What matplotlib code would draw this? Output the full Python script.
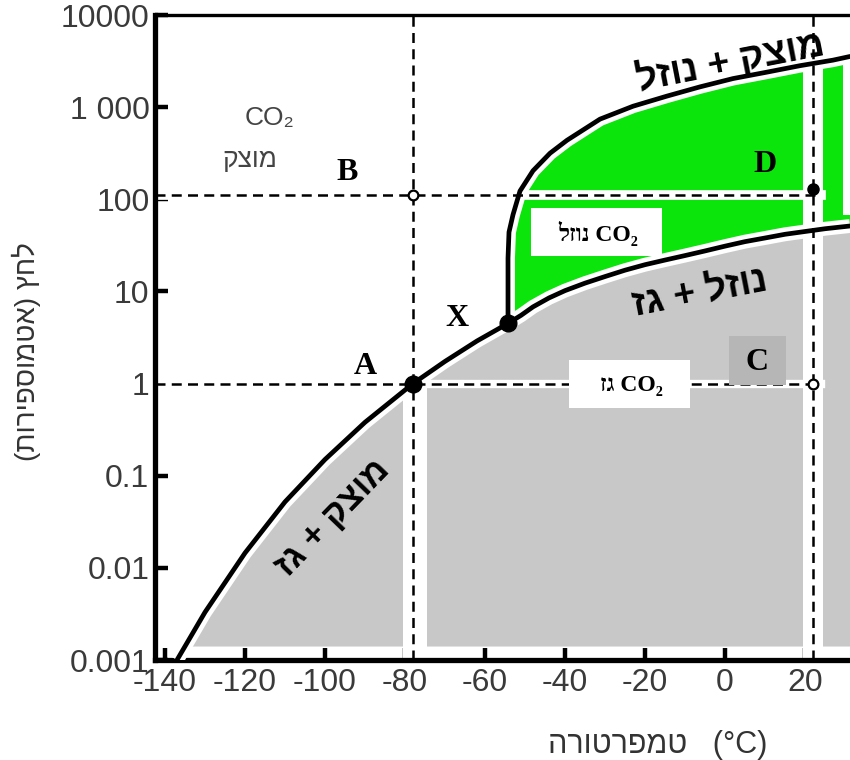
import matplotlib
matplotlib.use('Agg')
import matplotlib.pyplot as plt
from matplotlib.patches import Rectangle

plt.rcParams['axes.unicode_minus'] = False

# phase boundaries (temperature in C, pressure in atm)
subl_t = [-137, -130, -120, -110, -100, -90, -78, -70, -62, -54.25]
subl_p = [0.001, 0.0033, 0.0145, 0.052, 0.15, 0.38, 1.0, 1.74, 2.9, 4.5]

vap_t = [-54.25, -51, -48, -44, -40, -35, -30, -25, -20, -15, -10, -5, 0, 5, 10, 15, 20,
         25, 31.25]
vap_p = [4.5, 5.5, 6.8, 8.5, 10.2, 12.3, 14.5, 17, 19.5, 21.9, 24.5, 27.5, 31, 34.7, 38,
         41.7, 44.7, 47.9, 51.3]

melt_t = [-54.25, -54.25, -54.25, -54, -53, -51.25, -48, -43.75, -39.5, -31.25, -23, -14.5,
          -6.25, 2, 10.5, 18.75, 27, 31.25]
melt_p = [4.5, 11, 23, 44, 68, 123, 204, 316, 437, 741, 1023, 1318, 1660, 2042, 2399, 2818,
          3236, 3548]

triple = (-54.25, 4.5)
point_a = (-78, 1.0)
point_d = (22, 130)
open_pts_t = [-78, 22]
open_pts_p = [110, 1.0]

x_ticks = [-140, -120, -100, -80, -60, -40, -20, 0, 20]
y_ticks = [0.001, 0.01, 0.1, 1, 10, 100, 1000, 10000]
y_tick_labels = ['0.001', '0.01', '0.1', '1', '10', '100', '1 000', '10000']

xmin, xmax = -142.5, 31.25
ymin, ymax = 0.001, 10000

GRAY = '#c8c8c8'
GREEN = '#0be50b'
tick_font = ['Liberation Sans Narrow', 'Liberation Sans', 'DejaVu Sans']
heb_font = ['Liberation Sans', 'DejaVu Sans']
serif_font = ['Liberation Serif', 'DejaVu Serif']

fig = plt.figure(figsize=(8.5, 7.6), dpi=100)
ax = fig.add_axes([155 / 850, 1 - 660 / 760, 695 / 850, 645 / 760])
ax.set_yscale('log')
ax.set_xlim(xmin, xmax)
ax.set_ylim(ymin, ymax)

# gas region (gray) and liquid region (green)
gx = subl_t + vap_t[1:] + [xmax, subl_t[0]]
gy = subl_p + vap_p[1:] + [0.0014, 0.0014]
ax.fill(gx, gy, color=GRAY, lw=0, zorder=1)
lx = vap_t + melt_t[::-1]
ly = vap_p + melt_p[::-1]
ax.fill(lx, ly, color=GREEN, lw=0, zorder=1)

# white gaps along the dashed guide lines
ax.axvspan(-80.5, -74.5, color='white', lw=0, zorder=2)
ax.axvspan(19.5, 24.5, color='white', lw=0, zorder=2)
ax.axvspan(29.5, xmax, ymin=0.69, color='white', lw=0, zorder=2)
ax.plot([xmin, 24], [1, 1], color='white', lw=6, zorder=2)
ax.plot([xmin, 24], [110, 110], color='white', lw=7, zorder=2)

# guide lines
dash = (0, (4, 2.5))
ax.plot([-78, -78], [ymin, ymax], color='black', lw=1.8, ls=dash, zorder=4)
ax.plot([22, 22], [ymin, ymax], color='black', lw=1.8, ls=dash, zorder=4)
ax.plot([xmin, 24], [1, 1], color='black', lw=1.8, ls=dash, zorder=4)
ax.plot([xmin, 24], [110, 110], color='black', lw=1.8, ls=dash, zorder=4)

# phase boundaries with a white margin
for t, p in [(subl_t, subl_p), (vap_t, vap_p), (melt_t, melt_p)]:
    ax.plot(t, p, color='white', lw=10, solid_capstyle='butt', zorder=3)
    ax.plot(t, p, color='black', lw=3.4, solid_capstyle='round', solid_joinstyle='round',
            zorder=5)

ax.plot(*point_a, 'o', color='black', ms=12, zorder=6)
ax.plot(*triple, 'o', color='black', ms=12, zorder=6)
ax.plot(*point_d, 'o', color='black', ms=8, zorder=6)
ax.plot(open_pts_t, open_pts_p, 'o', mfc='white', mec='black', mew=1.6, ms=7, zorder=6)

# axes look
for side in ['left', 'bottom']:
    ax.spines[side].set_linewidth(3.8)
ax.spines['top'].set_linewidth(2.4)
ax.spines['right'].set_visible(False)
ax.set_xticks(x_ticks)
ax.set_xticklabels([str(v) for v in x_ticks])
ax.set_yticks(y_ticks)
ax.set_yticklabels(y_tick_labels)
ax.minorticks_off()
ax.tick_params(direction='in', length=9, width=3.2, colors='black')
ax.tick_params(axis='x', pad=6)
ax.tick_params(axis='y', pad=4)
for lab in ax.get_xticklabels() + ax.get_yticklabels():
    lab.set_family(tick_font)
    lab.set_fontsize(23)
    lab.set_color('#3a3a3a')


def px(x, y):
    return x / 850, 1 - y / 760


# axis titles (Hebrew written in visual order)
fig.text(*px(658, 745), 'הרוטרפמט   (°C)', ha='center', va='center', fontsize=22,
         family=heb_font, color='#333333')
fig.text(*px(26, 352), '(תוריפסומטא) ץחל', ha='center', va='center', rotation=90,
         fontsize=20, family=heb_font, color='#333333')

# solid region label
fig.text(*px(270, 118), 'CO₂', ha='center', va='center', fontsize=19,
         family=heb_font, color='#444444')
fig.text(*px(250, 160), 'קצומ', ha='center', va='center', fontsize=19,
         family=heb_font, color='#444444')

# boxed labels
boxes = [((531, 208, 131, 48), 'white'), ((569, 360, 121, 48), 'white'),
         ((729, 336, 57, 49), '#b6b6b6')]
for (bx, by, bw, bh), fc in boxes:
    x0, y0 = px(bx, by + bh)
    fig.add_artist(Rectangle((x0, y0), bw / 850, bh / 760, transform=fig.transFigure,
                             fc=fc, ec='none', zorder=8))
fig.text(*px(598, 233), 'לזונ CO₂', ha='center', va='center', fontsize=17,
         weight='bold', family=serif_font, zorder=9)
fig.text(*px(631, 386), 'זג CO₂', ha='center', va='center', fontsize=17,
         weight='bold', family=serif_font, zorder=9)

letters = [('A', 365, 367), ('B', 347, 172), ('C', 757, 362), ('D', 765, 165), ('X', 457, 318)]
for s, x, y in letters:
    fig.text(*px(x, y), s, ha='center', va='center', fontsize=23, weight='bold',
             family=serif_font, zorder=9)

# hand-written phase names along the boundaries
fig.text(*px(730, 62), 'לזונ + קצומ', ha='center', va='center', fontsize=27, weight='bold',
         rotation=11, family=heb_font, zorder=9)
fig.text(*px(700, 293), 'זג + לזונ', ha='center', va='center', fontsize=27, weight='bold',
         rotation=11, family=heb_font, zorder=9)
fig.text(*px(333, 518), 'זג + קצומ', ha='center', va='center', fontsize=25, weight='bold',
         rotation=46, family=heb_font, zorder=9)

fig.savefig('out.png', dpi=100)
